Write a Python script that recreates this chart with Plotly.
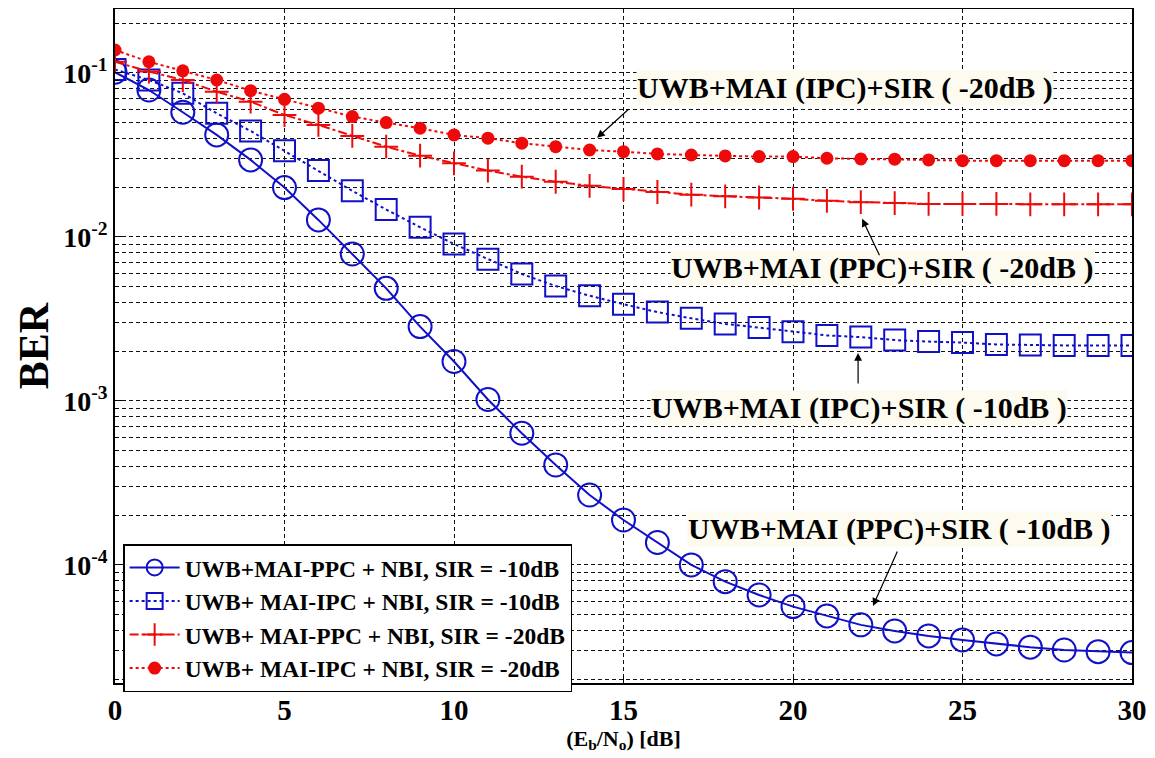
import math
import plotly.graph_objects as go

snr_db = list(range(31))

ber_ppc_sir10 = [0.101, 0.0787, 0.0576, 0.0419, 0.0295, 0.0200, 0.0127, 0.00787, 0.00486, 0.00284,
                 0.00174, 0.00102, 6.35e-4, 4.07e-4, 2.67e-4, 1.88e-4, 1.37e-4, 1.0e-4, 7.91e-5, 6.56e-5,
                 5.57e-5, 4.89e-5, 4.31e-5, 3.96e-5, 3.69e-5, 3.49e-5, 3.30e-5, 3.15e-5, 3.03e-5, 2.96e-5, 2.92e-5]
ber_ipc_sir10 = [0.105, 0.0906, 0.0752, 0.0567, 0.0443, 0.0336, 0.0254, 0.0191, 0.0147, 0.01146,
                 0.00906, 0.00731, 0.00594, 0.00502, 0.00438, 0.00389, 0.00348, 0.00319, 0.00295, 0.00280,
                 0.00264, 0.00251, 0.00245, 0.00235, 0.00230, 0.00227, 0.00221, 0.00219, 0.00218, 0.00218, 0.00218]
ber_ppc_sir20 = [0.117, 0.102, 0.0906, 0.0769, 0.0668, 0.0554, 0.0482, 0.0413, 0.0355, 0.0313,
                 0.0281, 0.0254, 0.0233, 0.0217, 0.0205, 0.0196, 0.0188, 0.0181, 0.0177, 0.0174,
                 0.0171, 0.0166, 0.0163, 0.0161, 0.0159, 0.0159, 0.0159, 0.0158, 0.0158, 0.0158, 0.0158]
ber_ipc_sir20 = [0.138, 0.117, 0.103, 0.0906, 0.0780, 0.0691, 0.0610, 0.0542, 0.0498, 0.0460,
                 0.0419, 0.0400, 0.0373, 0.0355, 0.0339, 0.0331, 0.0321, 0.0316, 0.0312, 0.0309,
                 0.0309, 0.0302, 0.0299, 0.0298, 0.0295, 0.0292, 0.0292, 0.0292, 0.0292, 0.0292, 0.0292]

legend_names = [
    "UWB+MAI-PPC + NBI, SIR = -10dB",
    "UWB+ MAI-IPC + NBI, SIR = -10dB",
    "UWB+ MAI-PPC + NBI, SIR = -20dB",
    "UWB+ MAI-IPC + NBI, SIR = -20dB",
]

y_major = [1e-4, 1e-3, 1e-2, 1e-1]
y_major_text = ["10<sup>-4</sup>", "10<sup>-3</sup>", "10<sup>-2</sup>", "10<sup>-1</sup>"]
y_minor = [m * 10.0 ** e for e in range(-5, 0) for m in range(2, 10)] + [0.2]

BLUE = "#1010c8"
RED = "#ee0a0a"
FONT = "Liberation Serif, Times New Roman, serif"

fig = go.Figure()

fig.add_trace(go.Scatter(
    x=snr_db, y=ber_ppc_sir10, mode="lines+markers", name=legend_names[0],
    line=dict(color=BLUE, width=2, dash="solid"),
    marker=dict(symbol="circle-open", size=23, color=BLUE, line=dict(width=2, color=BLUE)),
))
fig.add_trace(go.Scatter(
    x=snr_db, y=ber_ipc_sir10, mode="lines+markers", name=legend_names[1],
    line=dict(color=BLUE, width=2, dash="dot"),
    marker=dict(symbol="square-open", size=21, color=BLUE, line=dict(width=2, color=BLUE)),
))
fig.add_trace(go.Scatter(
    x=snr_db, y=ber_ppc_sir20, mode="lines+markers", name=legend_names[2],
    line=dict(color=RED, width=2, dash="dashdot"),
    marker=dict(symbol="cross-thin-open", size=17, color=RED, line=dict(width=2, color=RED)),
))
fig.add_trace(go.Scatter(
    x=snr_db, y=ber_ipc_sir20, mode="lines+markers", name=legend_names[3],
    line=dict(color=RED, width=2, dash="dot"),
    marker=dict(symbol="circle", size=13, color=RED),
))

GRID = dict(gridcolor="#111111", gridwidth=1, griddash="4px,3px")

fig.update_xaxes(
    range=[0, 30], dtick=5, tick0=0, showgrid=True, **GRID,
    ticks="inside", ticklen=7, tickcolor="black", automargin=False,
    showline=True, linecolor="black", linewidth=1.5, mirror=True, zeroline=False,
    tickfont=dict(family=FONT, size=29, color="black", weight="bold"),
    title=dict(text="(E<sub>b</sub>/N<sub>o</sub>) [dB]", standoff=2,
               font=dict(family=FONT, size=22, color="black", weight="bold")),
)
fig.update_yaxes(
    type="log", range=[-4.72, -0.61],
    tickmode="array", tickvals=y_major, ticktext=y_major_text,
    showgrid=True, **GRID,
    ticks="inside", ticklen=7, tickcolor="black", automargin=False,
    minor=dict(tickmode="array", tickvals=y_minor, ticks="inside", ticklen=4, tickcolor="black",
               showgrid=True, gridcolor="#111111", gridwidth=1, griddash="4px,3px"),
    showline=True, linecolor="black", linewidth=1.5, mirror=True, zeroline=False,
    tickfont=dict(family=FONT, size=28, color="black", weight="bold"),
    title=dict(text="BER", standoff=2,
               font=dict(family=FONT, size=42, color="black", weight="bold")),
)

label_bg = "rgba(253,250,240,1)"
label_font = dict(family=FONT, size=30, color="black", weight="bold")
labels = [
    ("UWB+MAI (IPC)+SIR ( -20dB )", 0.7178, 0.8828),
    ("UWB+MAI (PPC)+SIR ( -20dB )", 0.7542, 0.6157),
    ("UWB+MAI (IPC)+SIR ( -10dB )", 0.7316, 0.4080),
    ("UWB+MAI (PPC)+SIR ( -10dB )", 0.7709, 0.2285),
]
for txt, xp, yp in labels:
    fig.add_annotation(text=txt, xref="paper", yref="paper", x=xp, y=yp,
                       xanchor="center", yanchor="middle", showarrow=False,
                       bgcolor=label_bg, font=label_font, borderpad=0)

arrows = [
    (14.22, 0.0402, 33, -30),
    (22.04, 0.0129, 18, 38),
    (21.92, 0.00196, 0, 32),
    (22.36, 5.62e-5, 25, -56),
]
for ax_x, ax_y, dx, dy in arrows:
    fig.add_annotation(x=ax_x, y=math.log10(ax_y), xref="x", yref="y", text="",
                       showarrow=True, ax=dx, ay=dy, arrowhead=2, arrowsize=1.3,
                       arrowwidth=1.2, arrowcolor="black")

# the page body adds an 8px offset; size the figure so the plot lands where the reference has it
fig.update_layout(
    width=1147, height=750,
    margin=dict(l=107, r=23, t=1, b=75, autoexpand=False),
    plot_bgcolor="white", paper_bgcolor="white",
    font=dict(family=FONT, color="black"),
    legend=dict(x=0.008, y=0.206, xanchor="left", yanchor="top",
                bgcolor="white", bordercolor="black", borderwidth=1.5,
                itemwidth=50, tracegroupgap=0,
                font=dict(family=FONT, size=23.5, color="black", weight="bold")),
    showlegend=True,
)

fig.write_html("out.html")
